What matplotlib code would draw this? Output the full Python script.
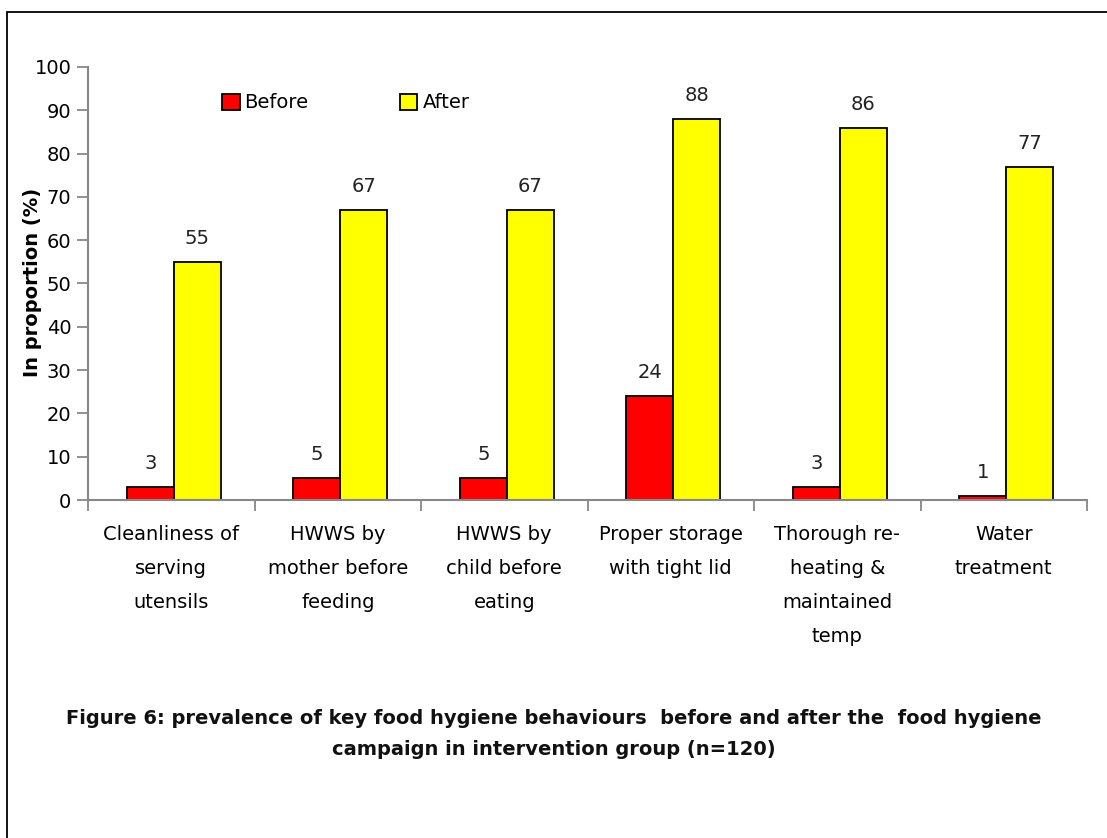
import matplotlib
matplotlib.use('Agg')
import matplotlib.pyplot as plt
import matplotlib.patches as mpatches
import numpy as np

# Data
categories = [
    'Cleanliness of\nserving\nutensils',
    'HWWS by\nmother before\nfeeding',
    'HWWS by\nchild before\neating',
    'Proper storage\nwith tight lid',
    'Thorough re-\nheating &\nmaintained\ntemp',
    'Water\ntreatment',
]
before = [3, 5, 5, 24, 3, 1]
after = [55, 67, 67, 88, 86, 77]
series_names = ['Before', 'After']
yticks = list(range(0, 101, 10))

caption = ('Figure 6: prevalence of key food hygiene behaviours  before and after the  food hygiene\n'
           'campaign in intervention group (n=120)')

W, H = 1107, 838
fig = plt.figure(figsize=(W / 100, H / 100), dpi=100)
ax = fig.add_axes([88 / W, 1 - 500 / H, 999 / W, 433 / H])

x = np.arange(len(categories)) + 0.5
bw = 0.282
offset = 0.015
b1 = ax.bar(x - bw / 2 + offset, before, bw, color='#ff0000', edgecolor='black',
            linewidth=1.3, label=series_names[0])
b2 = ax.bar(x + bw / 2 + offset, after, bw, color='#ffff00', edgecolor='black',
            linewidth=1.3, label=series_names[1])

# value labels on top of bars
for bars, vals in ((b1, before), (b2, after)):
    for rect, v in zip(bars, vals):
        ax.annotate(str(v), (rect.get_x() + rect.get_width() / 2, v),
                    xytext=(0, 10), textcoords='offset points',
                    ha='center', va='bottom', fontsize=14, color='#222222')

ax.set_xlim(0, len(categories))
ax.set_ylim(0, 100)
ax.set_yticks(yticks)
ax.set_xticks(x)
ax.set_xticklabels(categories, fontsize=14, linespacing=2.0)
ax.set_xticks(np.arange(len(categories) + 1), minor=True)
ax.tick_params(axis='x', which='major', length=0, pad=18)
ax.tick_params(axis='x', which='minor', length=8, color='#888888', width=1.3)
ax.tick_params(axis='y', length=8, color='#888888', width=1.3, labelsize=14, pad=4)

for side in ('top', 'right'):
    ax.spines[side].set_visible(False)
for side in ('left', 'bottom'):
    ax.spines[side].set_color('#888888')
    ax.spines[side].set_linewidth(1.5)

ax.set_ylabel('In proportion (%)', fontsize=14, fontweight='bold')
ax.yaxis.set_label_coords((42 - 88) / 999, 0.503)

ax.legend(loc='center', bbox_to_anchor=(0.258, 0.917), ncol=2, frameon=False,
          fontsize=14, handlelength=0.9, handleheight=0.9, handletextpad=0.25,
          columnspacing=4.7)

fig.text(0.5, 1 - 734 / H, caption, ha='center', va='center', fontsize=14,
         fontweight='bold', linespacing=1.75, color='#111111')

# border around the figure
fig.patches.append(mpatches.Rectangle((7 / W, -0.02), 1.0, 1 - 12 / H + 0.02,
                                      transform=fig.transFigure, fill=False,
                                      edgecolor='black', linewidth=1.3))

fig.savefig('out.png', dpi=100)
